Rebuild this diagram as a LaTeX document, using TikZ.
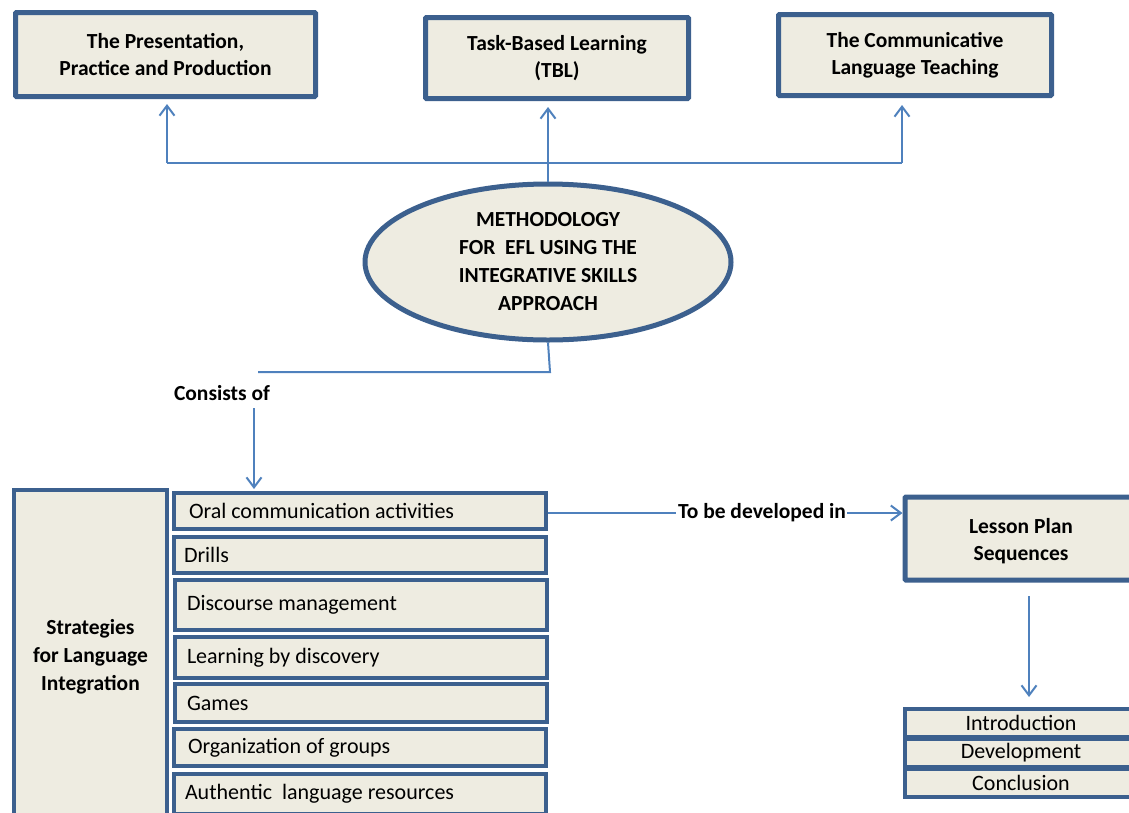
\documentclass[tikz,border=0pt]{standalone}
\usepackage{fontspec}
\setmainfont{Carlito}
\usetikzlibrary{arrows.meta,shapes.geometric}
\definecolor{bdr}{RGB}{60,96,142}
\definecolor{lnc}{RGB}{79,129,189}
\definecolor{fil}{RGB}{238,236,225}
\tikzset{
  box/.style={draw=bdr,fill=fil,line width=5pt,rounded corners=1pt,align=flush center,font=\fontsize{21.5}{27}\selectfont\bfseries,inner sep=0pt},
  item/.style={draw=bdr,fill=fil,line width=4pt,minimum width=372pt,text width=348pt,inner xsep=12pt,inner ysep=0pt,align=flush left,font=\fontsize{22}{24}\selectfont,anchor=center},
  sitem/.style={draw=bdr,fill=fil,line width=4pt,minimum width=232pt,minimum height=26pt,inner sep=0pt,align=flush center,font=\fontsize{22}{24}\selectfont},
  conn/.style={draw=lnc,line width=2pt},
  arr/.style={conn,-{Straight Barb[length=10pt,width=15pt,line width=2pt]}},
  lbl/.style={font=\fontsize{21.5}{27}\selectfont\bfseries,inner sep=0pt,align=flush center}
}
\begin{document}
\begin{tikzpicture}[x=1pt,y=-1pt]
\useasboundingbox (0,0) rectangle (1129,812);
\clip (0,0) rectangle (1129,812);
% top boxes
\node[box,minimum width=300pt,minimum height=84pt] (b1) at (165.5,54.5) {The Presentation,\\Practice and Production};
\node[box,minimum width=263pt,minimum height=81pt] (b2) at (557,58) {Task-Based Learning\\(TBL)};
\node[box,minimum width=273pt,minimum height=81pt] (b3) at (915,55) {The Communicative\\Language Teaching};
% ellipse
\node[ellipse,draw=bdr,fill=fil,line width=5pt,minimum width=366pt,minimum height=156pt,inner sep=0pt,align=flush center,font=\fontsize{21.5}{28}\selectfont\bfseries] (ell) at (548,262) {METHODOLOGY\\FOR\ \ EFL USING THE\\INTEGRATIVE SKILLS\\APPROACH};
% top connectors
\coordinate (hL) at (167,163);
\coordinate (hR) at (902,163);
\draw[conn] (hL) -- (hR);
\draw[arr,shorten >=5pt] (hL) -- (hL |- b1.south);
\draw[arr,shorten >=7pt] (hR) -- (hR |- b3.south);
\draw[arr,shorten >=6pt] (ell.north) -- (ell.north |- b2.south);
% bottom of ellipse
\coordinate (eB) at (550,372);
\coordinate (eL) at (258,372);
\draw[conn] (ell.south) -- (eB) -- (eL);
\node[lbl] (cons) at (222,393) {Consists of};
\coordinate (cA) at (254,408);
% strategies
\node[draw=bdr,fill=fil,line width=4pt,minimum width=153pt,minimum height=334pt,inner sep=0pt,align=flush center,font=\fontsize{21.5}{28}\selectfont\bfseries] (strat) at (90.5,657) {Strategies\\for Language\\Integration};
\node[item,minimum height=36pt,inner xsep=15pt,text width=342pt] (i1) at (360,511) {Oral communication activities};
\node[item,minimum height=36pt,inner xsep=10pt,text width=352pt] (i2) at (360,555) {Drills};
\node[item,minimum height=50pt] (i3) at (361,605) {Discourse management};
\node[item,minimum height=41pt] (i4) at (361,657.5) {Learning by discovery};
\node[item,minimum height=38pt] (i5) at (361,703) {Games};
\node[item,minimum height=37pt,inner xsep=14pt,text width=344pt] (i6) at (360,747.5) {Organization of groups};
\node[item,minimum height=40pt,inner xsep=11pt,text width=350pt] (i7) at (360,794) {Authentic\hspace{10pt}language resources};
\draw[arr,shorten >=2pt] (cA) -- (cA |- i1.north);
% lesson plan
\node[box,minimum width=232pt,minimum height=83pt] (lp) at (1021,538.5) {};
\node[lbl] (lpt) at (1021,541) {Lesson Plan\\Sequences};
\node[lbl] (tbd) at (762,513) {To be developed in};
\draw[conn] (i1.east |- tbd.west) -- ([xshift=-2pt]tbd.west);
\draw[arr] ([xshift=1pt]tbd.east) -- (tbd.east -| lp.west);
\coordinate (dA) at (1029,596);
\draw[arr] (dA) -- (1029,697);
\node[sitem,minimum height=28pt] (s1) at (1021,723) {Introduction};
\node[sitem,minimum height=28pt] (s2) at (1021,753) {Development};
\node[sitem,minimum height=28pt] (s3) at (1021,783) {Conclusion};
\end{tikzpicture}
\end{document}
